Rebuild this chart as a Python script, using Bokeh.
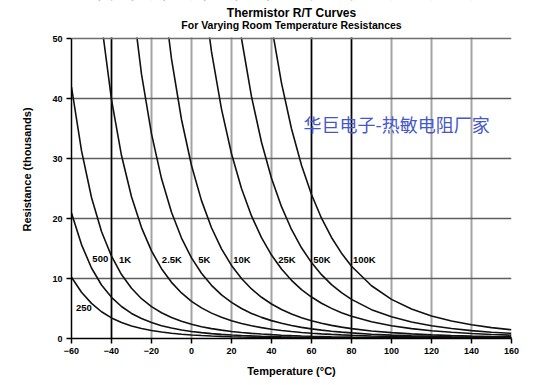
from bokeh.plotting import figure
from bokeh.models import Label, Span, FixedTicker, Range1d, Grid, BoxAnnotation
from bokeh.core.properties import value
from bokeh.embed import file_html
from bokeh.resources import INLINE

nan = float("nan")

temps = [-60, -55, -50, -45, -40, -35, -30, -25, -20, -15, -10, -5, 0, 5, 10, 15, 20, 25,
         30, 35, 40, 45, 50, 55, 60, 65, 70, 75, 80, 90, 100, 110, 120, 130, 140, 150, 160]

# Resistance in thousands of ohms for each room-temperature rating
r250 = [10.2, 7.7, 5.85, 4.46, 3.43, 2.66, 2.09, 1.66, 1.33, 1.07, 0.87, 0.715, 0.59, 0.49, 0.41,
        0.346, 0.293, 0.25, 0.214, 0.184, 0.159, 0.139, 0.121, 0.106, 0.093, 0.082, 0.073, 0.065,
        0.058, 0.047, 0.038, 0.031, 0.026, 0.022, 0.018, 0.016, 0.013]
r500 = [20.9, 15.65, 11.75, 8.92, 6.86, 5.33, 4.18, 3.32, 2.65, 2.14, 1.74, 1.43, 1.18, 0.98, 0.82,
        0.69, 0.59, 0.5, 0.43, 0.37, 0.32, 0.277, 0.242, 0.212, 0.186, 0.165, 0.146, 0.13, 0.116,
        0.093, 0.076, 0.062, 0.052, 0.043, 0.037, 0.031, 0.027]
r1k = [41.9, 31.3, 23.5, 17.84, 13.71, 10.66, 8.37, 6.63, 5.31, 4.29, 3.49, 2.86, 2.36, 1.96, 1.64,
       1.39, 1.17, 1.0, 0.86, 0.74, 0.64, 0.55, 0.48, 0.42, 0.37, 0.33, 0.29, 0.26, 0.23, 0.19,
       0.15, 0.12, 0.10, 0.087, 0.073, 0.062, 0.054]
r2k5 = [nan, nan, 70.3, 52.58, 39.8, 30.49, 23.62, 18.48, 14.60, 11.64, 9.36, 7.59, 6.20, 5.10,
        4.23, 3.53, 2.96, 2.5, 2.12, 1.81, 1.55, 1.34, 1.16, 1.01, 0.88, 0.77, 0.68, 0.60, 0.53,
        0.42, 0.34, 0.28, 0.227, 0.188, 0.158, 0.133, 0.113]
r5k = [nan, nan, nan, nan, nan, 75.97, 57.53, 44.06, 34.10, 26.65, 21.03, 16.74, 13.43, 10.87,
       8.86, 7.27, 6.01, 5.0, 4.18, 3.52, 2.98, 2.54, 2.17, 1.86, 1.61, 1.39, 1.21, 1.06, 0.93,
       0.72, 0.57, 0.456, 0.368, 0.30, 0.247, 0.206, 0.172]
r10k = [nan, nan, nan, nan, nan, nan, nan, nan, 78.2, 60.07, 46.60, 36.50, 28.84, 22.98, 18.46,
        14.94, 12.18, 10.0, 8.26, 6.87, 5.75, 4.83, 4.09, 3.47, 2.97, 2.54, 2.19, 1.90, 1.65,
        1.26, 0.98, 0.77, 0.61, 0.49, 0.40, 0.33, 0.27]
r25k = [nan, nan, nan, nan, nan, nan, nan, nan, nan, nan, nan, nan, nan, 60.29, 47.81, 38.23,
        30.80, 25.0, 20.43, 16.80, 13.91, 11.58, 9.70, 8.16, 6.91, 5.88, 5.02, 4.31, 3.71, 2.80,
        2.13, 1.65, 1.30, 1.03, 0.83, 0.67, 0.55]
r50k = [nan, nan, nan, nan, nan, nan, nan, nan, nan, nan, nan, nan, nan, nan, nan, nan, 62.50,
        50.0, 40.30, 32.71, 26.72, 21.97, 18.17, 15.12, 12.65, 10.64, 8.99, 7.64, 6.52, 4.81,
        3.61, 2.75, 2.12, 1.66, 1.31, 1.05, 0.85]
r100k = [nan, nan, nan, nan, nan, nan, nan, nan, nan, nan, nan, nan, nan, nan, nan, nan, nan,
         nan, 79.93, 64.35, 52.17, 42.57, 34.96, 28.88, 24.00, 20.05, 16.84, 14.22, 12.05, 8.79,
         6.52, 4.91, 3.75, 2.91, 2.28, 1.81, 1.45]

series = [r250, r500, r1k, r2k5, r5k, r10k, r25k, r50k, r100k]
curve_names = ["250", "500", "1K", "2.5K", "5K", "10K", "25K", "50K", "100K"]
name_x = [-53.8, -45.6, -33.2, -9.8, 6.4, 25.2, 47.7, 65.2, 86.4]
name_y = [5.1, 13.2, 13.2, 13.2, 13.2, 13.2, 13.2, 13.2, 13.2]

x_ticks = [-60, -40, -20, 0, 20, 40, 60, 80, 100, 120, 140, 160]
y_ticks = [0, 10, 20, 30, 40, 50]
dark_vlines = [-40, 60, 80]
x_min, x_max = -60, 160
y_min, y_max = 0, 50

title_text = "Thermistor R/T Curves"
subtitle_text = "For Varying Room Temperature Resistances"
x_label = "Temperature (°C)"
y_label = "Resistance (thousands)"
watermark = "华巨电子-热敏电阻厂家"

FONT = "Liberation Sans"

# The frame is extended above the chart's top (50) to hold the two title lines.
FRAME_H = 338
PX_PER_UNIT = 6.0
top_extent = FRAME_H / PX_PER_UNIT

p = figure(frame_width=440, frame_height=FRAME_H,
           x_range=Range1d(x_min, x_max), y_range=Range1d(y_min, top_extent),
           output_backend="svg", toolbar_location=None, title=None,
           min_border_left=71, min_border_right=32, min_border_top=0, min_border_bottom=44)
p.background_fill_color = "white"
p.border_fill_color = "white"
p.outline_line_color = None

# grid
p.xgrid.ticker = FixedTicker(ticks=x_ticks)
p.xgrid.grid_line_color = "#a3a3a3"
p.xgrid.grid_line_width = 2
p.xgrid.bounds = (y_min, y_max)
p.ygrid.ticker = FixedTicker(ticks=y_ticks[:-1])
p.ygrid.grid_line_color = "#5e5e5e"
p.ygrid.grid_line_width = 1.5
p.ygrid.bounds = (x_min, x_max)
p.add_layout(Grid(dimension=0, ticker=FixedTicker(ticks=dark_vlines), bounds=(y_min, y_max),
                  grid_line_color="black", grid_line_width=1.5))

# axes
p.xaxis.ticker = FixedTicker(ticks=x_ticks)
p.yaxis.ticker = FixedTicker(ticks=y_ticks)
p.yaxis.bounds = (y_min, y_max)
p.xaxis.axis_label = x_label
p.yaxis.axis_label = y_label
for ax in (p.xaxis, p.yaxis):
    ax.axis_line_color = "black"
    ax.axis_line_width = 1.5
    ax.major_tick_line_color = "black"
    ax.major_tick_line_width = 1.5
    ax.major_tick_in = 0
    ax.major_tick_out = 5
    ax.minor_tick_in = 0
    ax.minor_tick_out = 0
    ax.major_label_text_font = FONT
    ax.major_label_text_font_style = "bold"
    ax.major_label_text_font_size = "9px"
    ax.major_label_text_color = "black"
    ax.major_label_standoff = 4
    ax.axis_label_text_font = FONT
    ax.axis_label_text_font_style = "bold"
    ax.axis_label_text_font_size = "11px"
    ax.axis_label_text_color = "black"
p.xaxis.axis_label_standoff = 8
p.yaxis.axis_label_standoff = 16

# curves
for r in series:
    p.line(temps, r, line_color="#111111", line_width=1.6)

p.text(x=name_x, y=name_y, text=curve_names, text_font=value(FONT), text_font_style="bold",
       text_font_size="9.5px", text_align="center", text_baseline="middle", text_color="black")

# blank the area above the chart top, then draw its top border and the titles
p.add_layout(BoxAnnotation(bottom=y_max + 0.15, top=top_extent + 50,
                           left=x_min - 50, right=x_max + 50,
                           fill_color="white", fill_alpha=1.0,
                           line_color=None, level="overlay"))
p.add_layout(Span(location=y_max, dimension="width", line_color="#6e6e6e", line_width=1.5,
                  level="overlay"))

p.add_layout(Label(x=56, y=35.8, text=watermark, text_font="Noto Sans CJK SC",
                   text_font_size="18px", text_color="#4658c8",
                   text_align="left", text_baseline="middle"))

mid_x = (x_min + x_max) / 2
p.add_layout(Label(x=mid_x, y=y_max + 4.28, text=title_text, level="overlay",
                   text_font=FONT, text_font_style="bold", text_font_size="12px",
                   text_align="center", text_baseline="middle", text_color="black"))
p.add_layout(Label(x=mid_x, y=y_max + 2.22, text=subtitle_text, level="overlay",
                   text_font=FONT, text_font_style="bold", text_font_size="10.5px",
                   text_align="center", text_baseline="middle", text_color="black"))

open("out.html", "w").write(file_html(p, INLINE))
